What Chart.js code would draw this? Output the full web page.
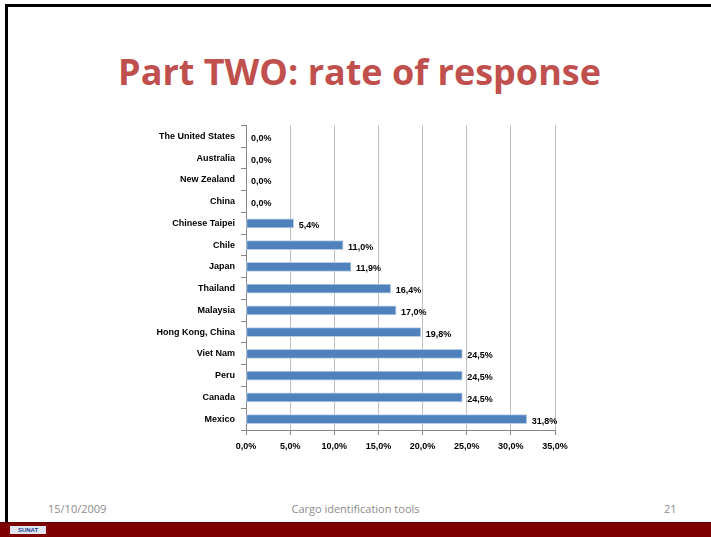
<!DOCTYPE html>
<html>
<head>
<meta charset="utf-8"/>
<title>Part TWO: rate of response</title>
<script src="https://cdn.jsdelivr.net/npm/chart.js"></script>
<style>
  body {
    margin: 0;
    padding: 0;
    background: #ffffff;
    font-family: 'Liberation Sans', Arial, sans-serif;
  }
  .slide {
    position: relative;
    width: 711px;
    height: 537px;
    overflow: hidden;
    background: #ffffff;
  }
  .frame-top {
    position: absolute; left: 5px; top: 4px; width: 706px; height: 3px; background: #000;
  }
  .frame-left {
    position: absolute; left: 5px; top: 4px; width: 3px; height: 520px; background: #000;
  }
  h1 {
    position: absolute;
    left: 4px; top: 47px; width: 711px;
    margin: 0;
    text-align: center;
    font-family: 'Open Sans', sans-serif;
    font-weight: bold;
    font-size: 36px;
    color: #C0504D;
  }
  #chartWrap {
    position: absolute; left: 100px; top: 114px; width: 500px; height: 346px;
  }
  .foot {
    position: absolute; top: 501px; font-size: 11px; color: #8b8b8b;
    font-family: 'Open Sans', sans-serif;
  }
  .bar {
    position: absolute; left: 0; top: 522px; width: 711px; height: 15px; background: #7F0000;
    border-top: 1px solid #5a0000;
  }
  .logo {
    position: absolute; left: 10px; top: 526px; width: 36px; height: 8px; background: #dfe6f0;
    font-size: 6px; font-weight: bold; color: #1f3f8f; line-height: 8px; text-align: center;
  }
</style>
</head>
<body>
<div class="slide">
  <div class="frame-top"></div>
  <div class="frame-left"></div>
  <h1>Part TWO: rate of response</h1>
  <div id="chartWrap"><canvas id="rateChart"></canvas></div>
  <div class="foot" style="left:48px">15/10/2009</div>
  <div class="foot" style="left:0;width:711px;text-align:center">Cargo identification tools</div>
  <div class="foot" style="left:664px">21</div>
  <div class="bar"></div>
  <div class="logo">SUNAT</div>
</div>
<script>
  const countries = ['The United States', 'Australia', 'New Zealand', 'China', 'Chinese Taipei',
    'Chile', 'Japan', 'Thailand', 'Malaysia', 'Hong Kong, China', 'Viet Nam', 'Peru', 'Canada', 'Mexico'];
  const rates = [0.0, 0.0, 0.0, 0.0, 5.4, 11.0, 11.9, 16.4, 17.0, 19.8, 24.5, 24.5, 24.5, 31.8];
  const xTicks = [0, 5, 10, 15, 20, 25, 30, 35];

  const pct = v => v.toFixed(1).replace('.', ',') + '%';
  const labelFont = { family: "'Liberation Sans', Arial, sans-serif", size: 9, weight: 'bold' };

  // value labels at the end of each bar
  const barLabels = {
    id: 'barLabels',
    afterDatasetsDraw(chart) {
      const ctx = chart.ctx;
      const meta = chart.getDatasetMeta(0);
      ctx.save();
      ctx.font = 'bold 9px "Liberation Sans", Arial, sans-serif';
      ctx.fillStyle = '#000';
      ctx.textBaseline = 'middle';
      meta.data.forEach((bar, i) => {
        ctx.fillText(pct(rates[i]), bar.x + 5, bar.y + 2);
      });
      ctx.restore();
    }
  };

  new Chart(document.getElementById('rateChart'), {
    type: 'bar',
    data: {
      labels: countries,
      datasets: [{
        data: rates,
        backgroundColor: '#4F81BD',
        borderColor: '#B9CDE5',
        borderWidth: 1,
        borderSkipped: false,
        barThickness: 9
      }]
    },
    options: {
      indexAxis: 'y',
      responsive: true,
      maintainAspectRatio: false,
      animation: false,
      layout: { padding: { top: 5, right: 45, bottom: 0, left: 0 } },
      plugins: { legend: { display: false }, tooltip: { enabled: false } },
      scales: {
        x: {
          min: 0, max: 35,
          afterBuildTicks: s => { s.ticks = xTicks.map(v => ({ value: v })); },
          afterFit: s => { s.height = 30; },
          grid: { color: '#BFBFBF', tickColor: '#868686', tickLength: 5 },
          border: { color: '#868686' },
          ticks: { font: labelFont, color: '#000', padding: 6, callback: v => pct(v) }
        },
        y: {
          afterFit: s => { s.width = 146; },
          grid: { drawOnChartArea: false, tickColor: '#868686', tickLength: 5, offset: true },
          border: { color: '#868686' },
          ticks: { font: labelFont, color: '#000', padding: 6 }
        }
      }
    },
    plugins: [barLabels]
  });
</script>
</body>
</html>
